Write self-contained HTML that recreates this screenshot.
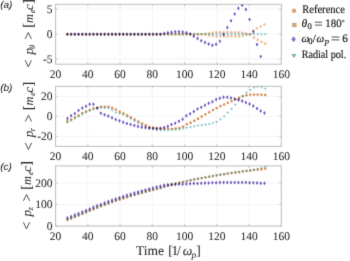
<!DOCTYPE html>
<html><head><meta charset="utf-8"><style>
html,body{margin:0;padding:0;background:#fff;}
body{width:350px;height:261px;overflow:hidden;}
svg{display:block;text-rendering:geometricPrecision;}
.tk{font-family:"Liberation Serif",serif;font-size:11.5px;fill:#262626;stroke:#262626;stroke-width:0.05px;}
.yl{font-family:"Liberation Serif",serif;font-size:11.5px;fill:#262626;stroke:#262626;stroke-width:0.04px;}
.xl{font-family:"Liberation Serif",serif;font-size:13px;fill:#262626;stroke:#262626;stroke-width:0.04px;}
.lg{font-family:"Liberation Serif",serif;font-size:10.5px;fill:#111;stroke:#111;stroke-width:0.15px;}
.pl{font-family:"Liberation Sans",sans-serif;font-size:10px;font-style:italic;fill:#222;}
</style></head><body>
<svg width="350" height="261" viewBox="0 0 350 261">
<defs><filter id="bl" x="-2%" y="-2%" width="104%" height="104%" color-interpolation-filters="sRGB"><feConvolveMatrix order="3" kernelMatrix="0.01134 0.08382 0.01134 0.08382 0.61935 0.08382 0.01134 0.08382 0.01134" divisor="1" edgeMode="duplicate" preserveAlpha="false"/></filter></defs>
<rect width="350" height="261" fill="#fff"/>
<g filter="url(#bl)">
<clipPath id="ca"><rect x="55.6" y="4.3" width="225.70000000000002" height="59.900000000000006"/></clipPath><line x1="87.84" y1="4.3" x2="87.84" y2="64.2" stroke="#efefef" stroke-width="0.6"/><line x1="120.08" y1="4.3" x2="120.08" y2="64.2" stroke="#efefef" stroke-width="0.6"/><line x1="152.33" y1="4.3" x2="152.33" y2="64.2" stroke="#efefef" stroke-width="0.6"/><line x1="184.57" y1="4.3" x2="184.57" y2="64.2" stroke="#efefef" stroke-width="0.6"/><line x1="216.81" y1="4.3" x2="216.81" y2="64.2" stroke="#efefef" stroke-width="0.6"/><line x1="249.05" y1="4.3" x2="249.05" y2="64.2" stroke="#efefef" stroke-width="0.6"/><line x1="55.6" y1="59.21" x2="281.3" y2="59.21" stroke="#efefef" stroke-width="0.6"/><line x1="55.6" y1="34.25" x2="281.3" y2="34.25" stroke="#efefef" stroke-width="0.6"/><line x1="55.6" y1="9.29" x2="281.3" y2="9.29" stroke="#efefef" stroke-width="0.6"/><rect x="55.6" y="4.3" width="225.70000000000002" height="59.900000000000006" fill="none" stroke="#bdbdbd" stroke-width="1.0"/><line x1="87.84" y1="64.2" x2="87.84" y2="62.2" stroke="#b0b0b0" stroke-width="0.7"/><line x1="87.84" y1="4.3" x2="87.84" y2="6.3" stroke="#b0b0b0" stroke-width="0.7"/><line x1="120.08" y1="64.2" x2="120.08" y2="62.2" stroke="#b0b0b0" stroke-width="0.7"/><line x1="120.08" y1="4.3" x2="120.08" y2="6.3" stroke="#b0b0b0" stroke-width="0.7"/><line x1="152.33" y1="64.2" x2="152.33" y2="62.2" stroke="#b0b0b0" stroke-width="0.7"/><line x1="152.33" y1="4.3" x2="152.33" y2="6.3" stroke="#b0b0b0" stroke-width="0.7"/><line x1="184.57" y1="64.2" x2="184.57" y2="62.2" stroke="#b0b0b0" stroke-width="0.7"/><line x1="184.57" y1="4.3" x2="184.57" y2="6.3" stroke="#b0b0b0" stroke-width="0.7"/><line x1="216.81" y1="64.2" x2="216.81" y2="62.2" stroke="#b0b0b0" stroke-width="0.7"/><line x1="216.81" y1="4.3" x2="216.81" y2="6.3" stroke="#b0b0b0" stroke-width="0.7"/><line x1="249.05" y1="64.2" x2="249.05" y2="62.2" stroke="#b0b0b0" stroke-width="0.7"/><line x1="249.05" y1="4.3" x2="249.05" y2="6.3" stroke="#b0b0b0" stroke-width="0.7"/><line x1="55.6" y1="59.21" x2="57.6" y2="59.21" stroke="#b0b0b0" stroke-width="0.7"/><line x1="281.3" y1="59.21" x2="279.3" y2="59.21" stroke="#b0b0b0" stroke-width="0.7"/><line x1="55.6" y1="34.25" x2="57.6" y2="34.25" stroke="#b0b0b0" stroke-width="0.7"/><line x1="281.3" y1="34.25" x2="279.3" y2="34.25" stroke="#b0b0b0" stroke-width="0.7"/><line x1="55.6" y1="9.29" x2="57.6" y2="9.29" stroke="#b0b0b0" stroke-width="0.7"/><line x1="281.3" y1="9.29" x2="279.3" y2="9.29" stroke="#b0b0b0" stroke-width="0.7"/><text x="55.60" y="78.10" text-anchor="middle" class="tk">20</text><text x="87.84" y="78.10" text-anchor="middle" class="tk">40</text><text x="120.08" y="78.10" text-anchor="middle" class="tk">60</text><text x="152.33" y="78.10" text-anchor="middle" class="tk">80</text><text x="184.57" y="78.10" text-anchor="middle" class="tk">100</text><text x="216.81" y="78.10" text-anchor="middle" class="tk">120</text><text x="249.05" y="78.10" text-anchor="middle" class="tk">140</text><text x="281.29" y="78.10" text-anchor="middle" class="tk">160</text><text x="52.6" y="63.11" text-anchor="end" class="tk">-5</text><text x="52.6" y="38.15" text-anchor="end" class="tk">0</text><text x="52.6" y="13.19" text-anchor="end" class="tk">5</text><clipPath id="cb"><rect x="55.6" y="86.3" width="225.70000000000002" height="60.10000000000001"/></clipPath><line x1="87.84" y1="86.3" x2="87.84" y2="146.4" stroke="#efefef" stroke-width="0.6"/><line x1="120.08" y1="86.3" x2="120.08" y2="146.4" stroke="#efefef" stroke-width="0.6"/><line x1="152.33" y1="86.3" x2="152.33" y2="146.4" stroke="#efefef" stroke-width="0.6"/><line x1="184.57" y1="86.3" x2="184.57" y2="146.4" stroke="#efefef" stroke-width="0.6"/><line x1="216.81" y1="86.3" x2="216.81" y2="146.4" stroke="#efefef" stroke-width="0.6"/><line x1="249.05" y1="86.3" x2="249.05" y2="146.4" stroke="#efefef" stroke-width="0.6"/><line x1="55.6" y1="136.38" x2="281.3" y2="136.38" stroke="#efefef" stroke-width="0.6"/><line x1="55.6" y1="116.35" x2="281.3" y2="116.35" stroke="#efefef" stroke-width="0.6"/><line x1="55.6" y1="96.32" x2="281.3" y2="96.32" stroke="#efefef" stroke-width="0.6"/><rect x="55.6" y="86.3" width="225.70000000000002" height="60.10000000000001" fill="none" stroke="#bdbdbd" stroke-width="1.0"/><line x1="87.84" y1="146.4" x2="87.84" y2="144.4" stroke="#b0b0b0" stroke-width="0.7"/><line x1="87.84" y1="86.3" x2="87.84" y2="88.3" stroke="#b0b0b0" stroke-width="0.7"/><line x1="120.08" y1="146.4" x2="120.08" y2="144.4" stroke="#b0b0b0" stroke-width="0.7"/><line x1="120.08" y1="86.3" x2="120.08" y2="88.3" stroke="#b0b0b0" stroke-width="0.7"/><line x1="152.33" y1="146.4" x2="152.33" y2="144.4" stroke="#b0b0b0" stroke-width="0.7"/><line x1="152.33" y1="86.3" x2="152.33" y2="88.3" stroke="#b0b0b0" stroke-width="0.7"/><line x1="184.57" y1="146.4" x2="184.57" y2="144.4" stroke="#b0b0b0" stroke-width="0.7"/><line x1="184.57" y1="86.3" x2="184.57" y2="88.3" stroke="#b0b0b0" stroke-width="0.7"/><line x1="216.81" y1="146.4" x2="216.81" y2="144.4" stroke="#b0b0b0" stroke-width="0.7"/><line x1="216.81" y1="86.3" x2="216.81" y2="88.3" stroke="#b0b0b0" stroke-width="0.7"/><line x1="249.05" y1="146.4" x2="249.05" y2="144.4" stroke="#b0b0b0" stroke-width="0.7"/><line x1="249.05" y1="86.3" x2="249.05" y2="88.3" stroke="#b0b0b0" stroke-width="0.7"/><line x1="55.6" y1="136.38" x2="57.6" y2="136.38" stroke="#b0b0b0" stroke-width="0.7"/><line x1="281.3" y1="136.38" x2="279.3" y2="136.38" stroke="#b0b0b0" stroke-width="0.7"/><line x1="55.6" y1="116.35" x2="57.6" y2="116.35" stroke="#b0b0b0" stroke-width="0.7"/><line x1="281.3" y1="116.35" x2="279.3" y2="116.35" stroke="#b0b0b0" stroke-width="0.7"/><line x1="55.6" y1="96.32" x2="57.6" y2="96.32" stroke="#b0b0b0" stroke-width="0.7"/><line x1="281.3" y1="96.32" x2="279.3" y2="96.32" stroke="#b0b0b0" stroke-width="0.7"/><text x="55.60" y="160.30" text-anchor="middle" class="tk">20</text><text x="87.84" y="160.30" text-anchor="middle" class="tk">40</text><text x="120.08" y="160.30" text-anchor="middle" class="tk">60</text><text x="152.33" y="160.30" text-anchor="middle" class="tk">80</text><text x="184.57" y="160.30" text-anchor="middle" class="tk">100</text><text x="216.81" y="160.30" text-anchor="middle" class="tk">120</text><text x="249.05" y="160.30" text-anchor="middle" class="tk">140</text><text x="281.29" y="160.30" text-anchor="middle" class="tk">160</text><text x="52.6" y="140.28" text-anchor="end" class="tk">-20</text><text x="52.6" y="120.25" text-anchor="end" class="tk">0</text><text x="52.6" y="100.22" text-anchor="end" class="tk">20</text><clipPath id="cc"><rect x="55.6" y="165.9" width="225.70000000000002" height="60.150000000000006"/></clipPath><line x1="87.84" y1="165.9" x2="87.84" y2="226.05" stroke="#efefef" stroke-width="0.6"/><line x1="120.08" y1="165.9" x2="120.08" y2="226.05" stroke="#efefef" stroke-width="0.6"/><line x1="152.33" y1="165.9" x2="152.33" y2="226.05" stroke="#efefef" stroke-width="0.6"/><line x1="184.57" y1="165.9" x2="184.57" y2="226.05" stroke="#efefef" stroke-width="0.6"/><line x1="216.81" y1="165.9" x2="216.81" y2="226.05" stroke="#efefef" stroke-width="0.6"/><line x1="249.05" y1="165.9" x2="249.05" y2="226.05" stroke="#efefef" stroke-width="0.6"/><line x1="55.6" y1="226.05" x2="281.3" y2="226.05" stroke="#efefef" stroke-width="0.6"/><line x1="55.6" y1="204.57" x2="281.3" y2="204.57" stroke="#efefef" stroke-width="0.6"/><line x1="55.6" y1="183.09" x2="281.3" y2="183.09" stroke="#efefef" stroke-width="0.6"/><rect x="55.6" y="165.9" width="225.70000000000002" height="60.150000000000006" fill="none" stroke="#bdbdbd" stroke-width="1.0"/><line x1="87.84" y1="226.05" x2="87.84" y2="224.05" stroke="#b0b0b0" stroke-width="0.7"/><line x1="87.84" y1="165.9" x2="87.84" y2="167.9" stroke="#b0b0b0" stroke-width="0.7"/><line x1="120.08" y1="226.05" x2="120.08" y2="224.05" stroke="#b0b0b0" stroke-width="0.7"/><line x1="120.08" y1="165.9" x2="120.08" y2="167.9" stroke="#b0b0b0" stroke-width="0.7"/><line x1="152.33" y1="226.05" x2="152.33" y2="224.05" stroke="#b0b0b0" stroke-width="0.7"/><line x1="152.33" y1="165.9" x2="152.33" y2="167.9" stroke="#b0b0b0" stroke-width="0.7"/><line x1="184.57" y1="226.05" x2="184.57" y2="224.05" stroke="#b0b0b0" stroke-width="0.7"/><line x1="184.57" y1="165.9" x2="184.57" y2="167.9" stroke="#b0b0b0" stroke-width="0.7"/><line x1="216.81" y1="226.05" x2="216.81" y2="224.05" stroke="#b0b0b0" stroke-width="0.7"/><line x1="216.81" y1="165.9" x2="216.81" y2="167.9" stroke="#b0b0b0" stroke-width="0.7"/><line x1="249.05" y1="226.05" x2="249.05" y2="224.05" stroke="#b0b0b0" stroke-width="0.7"/><line x1="249.05" y1="165.9" x2="249.05" y2="167.9" stroke="#b0b0b0" stroke-width="0.7"/><line x1="55.6" y1="226.05" x2="57.6" y2="226.05" stroke="#b0b0b0" stroke-width="0.7"/><line x1="281.3" y1="226.05" x2="279.3" y2="226.05" stroke="#b0b0b0" stroke-width="0.7"/><line x1="55.6" y1="204.57" x2="57.6" y2="204.57" stroke="#b0b0b0" stroke-width="0.7"/><line x1="281.3" y1="204.57" x2="279.3" y2="204.57" stroke="#b0b0b0" stroke-width="0.7"/><line x1="55.6" y1="183.09" x2="57.6" y2="183.09" stroke="#b0b0b0" stroke-width="0.7"/><line x1="281.3" y1="183.09" x2="279.3" y2="183.09" stroke="#b0b0b0" stroke-width="0.7"/><text x="55.60" y="239.95" text-anchor="middle" class="tk">20</text><text x="87.84" y="239.95" text-anchor="middle" class="tk">40</text><text x="120.08" y="239.95" text-anchor="middle" class="tk">60</text><text x="152.33" y="239.95" text-anchor="middle" class="tk">80</text><text x="184.57" y="239.95" text-anchor="middle" class="tk">100</text><text x="216.81" y="239.95" text-anchor="middle" class="tk">120</text><text x="249.05" y="239.95" text-anchor="middle" class="tk">140</text><text x="281.29" y="239.95" text-anchor="middle" class="tk">160</text><text x="52.6" y="229.95" text-anchor="end" class="tk">0</text><text x="52.6" y="208.47" text-anchor="end" class="tk">100</text><text x="52.6" y="186.99" text-anchor="end" class="tk">200</text><g transform="translate(32.60,67.20) rotate(-90)" class="yl"><path d="M7.0 -7.4L0.3 -4.3L7.0 -1.2" fill="none" stroke="#262626" stroke-width="0.8" stroke-linejoin="miter"/><text x="12.63" y="0.00" style="font-size:13.0px" font-style="italic">p</text><text x="18.30" y="2.40" style="font-size:8.5px" font-style="italic">θ</text><path d="M28.3 -7.4L34.6 -4.3L28.3 -1.2" fill="none" stroke="#262626" stroke-width="0.8" stroke-linejoin="miter"/><text x="39.51" y="0.30" style="font-size:14.5px">[</text><text x="44.22" y="0.00" style="font-size:12.5px" font-style="italic">m</text><text x="54.08" y="2.40" style="font-size:8.5px" font-style="italic">e</text><text x="57.30" y="0.00" style="font-size:12.5px" font-style="italic">c</text><text x="63.36" y="0.30" style="font-size:14.5px">]</text></g><g transform="translate(32.70,149.80) rotate(-90)" class="yl"><path d="M7.0 -7.4L0.3 -4.3L7.0 -1.2" fill="none" stroke="#262626" stroke-width="0.8" stroke-linejoin="miter"/><text x="12.63" y="0.00" style="font-size:13.0px" font-style="italic">p</text><text x="18.46" y="2.40" style="font-size:8.5px" font-style="italic">r</text><path d="M28.3 -7.4L34.6 -4.3L28.3 -1.2" fill="none" stroke="#262626" stroke-width="0.8" stroke-linejoin="miter"/><text x="39.51" y="0.30" style="font-size:14.5px">[</text><text x="44.22" y="0.00" style="font-size:12.5px" font-style="italic">m</text><text x="54.08" y="2.40" style="font-size:8.5px" font-style="italic">e</text><text x="57.30" y="0.00" style="font-size:12.5px" font-style="italic">c</text><text x="63.36" y="0.30" style="font-size:14.5px">]</text></g><g transform="translate(30.80,229.17) rotate(-90)" class="yl"><path d="M7.0 -7.4L0.3 -4.3L7.0 -1.2" fill="none" stroke="#262626" stroke-width="0.8" stroke-linejoin="miter"/><text x="12.63" y="0.00" style="font-size:13.0px" font-style="italic">p</text><text x="18.75" y="2.40" style="font-size:8.5px" font-style="italic">z</text><path d="M28.3 -7.4L34.6 -4.3L28.3 -1.2" fill="none" stroke="#262626" stroke-width="0.8" stroke-linejoin="miter"/><text x="39.51" y="0.30" style="font-size:14.5px">[</text><text x="44.22" y="0.00" style="font-size:12.5px" font-style="italic">m</text><text x="54.08" y="2.40" style="font-size:8.5px" font-style="italic">e</text><text x="57.30" y="0.00" style="font-size:12.5px" font-style="italic">c</text><text x="63.36" y="0.30" style="font-size:14.5px">]</text></g><g class="xl"><text x="136.06" y="255.0" style="font-size:13.5px">Time</text><text x="168.20" y="255.00" style="font-size:13.5px">[</text><text x="171.61" y="255.00" style="font-size:13.5px">1</text><text x="176.90" y="255.00" style="font-size:13.5px">/</text><text x="182.65" y="255.00" style="font-size:13.5px" font-style="italic">ω</text><text x="191.56" y="257.60" style="font-size:9.5px" font-style="italic">p</text><text x="196.21" y="255.00" style="font-size:13.5px">]</text></g><g clip-path="url(#ca)" opacity="0.6" style="mix-blend-mode:multiply"><circle cx="67.40" cy="34.25" r="1.22" fill="#de8c4a"/><circle cx="71.12" cy="34.25" r="1.22" fill="#de8c4a"/><circle cx="74.84" cy="34.25" r="1.22" fill="#de8c4a"/><circle cx="78.55" cy="34.25" r="1.22" fill="#de8c4a"/><circle cx="82.27" cy="34.25" r="1.22" fill="#de8c4a"/><circle cx="85.99" cy="34.25" r="1.22" fill="#de8c4a"/><circle cx="89.71" cy="34.25" r="1.22" fill="#de8c4a"/><circle cx="93.43" cy="34.25" r="1.22" fill="#de8c4a"/><circle cx="97.14" cy="34.25" r="1.22" fill="#de8c4a"/><circle cx="100.86" cy="34.25" r="1.22" fill="#de8c4a"/><circle cx="104.58" cy="34.25" r="1.22" fill="#de8c4a"/><circle cx="108.30" cy="34.25" r="1.22" fill="#de8c4a"/><circle cx="112.02" cy="34.25" r="1.22" fill="#de8c4a"/><circle cx="115.73" cy="34.25" r="1.22" fill="#de8c4a"/><circle cx="119.45" cy="34.25" r="1.22" fill="#de8c4a"/><circle cx="123.17" cy="34.25" r="1.22" fill="#de8c4a"/><circle cx="126.89" cy="34.25" r="1.22" fill="#de8c4a"/><circle cx="130.61" cy="34.25" r="1.22" fill="#de8c4a"/><circle cx="134.32" cy="34.25" r="1.22" fill="#de8c4a"/><circle cx="138.04" cy="34.25" r="1.22" fill="#de8c4a"/><circle cx="141.76" cy="34.25" r="1.22" fill="#de8c4a"/><circle cx="145.48" cy="34.25" r="1.22" fill="#de8c4a"/><circle cx="149.20" cy="34.25" r="1.22" fill="#de8c4a"/><circle cx="152.91" cy="34.25" r="1.22" fill="#de8c4a"/><circle cx="156.63" cy="34.25" r="1.22" fill="#de8c4a"/><circle cx="160.35" cy="34.25" r="1.22" fill="#de8c4a"/><circle cx="164.07" cy="34.25" r="1.22" fill="#de8c4a"/><circle cx="167.79" cy="34.25" r="1.22" fill="#de8c4a"/><circle cx="171.50" cy="34.25" r="1.22" fill="#de8c4a"/><circle cx="175.22" cy="34.25" r="1.22" fill="#de8c4a"/><circle cx="178.94" cy="34.25" r="1.22" fill="#de8c4a"/><circle cx="182.66" cy="34.25" r="1.22" fill="#de8c4a"/><circle cx="186.38" cy="34.25" r="1.22" fill="#de8c4a"/><circle cx="190.09" cy="34.25" r="1.22" fill="#de8c4a"/><circle cx="193.81" cy="34.25" r="1.22" fill="#de8c4a"/><circle cx="197.53" cy="34.25" r="1.22" fill="#de8c4a"/><circle cx="201.25" cy="34.11" r="1.22" fill="#de8c4a"/><circle cx="204.97" cy="33.80" r="1.22" fill="#de8c4a"/><circle cx="208.68" cy="33.34" r="1.22" fill="#de8c4a"/><circle cx="212.40" cy="32.80" r="1.22" fill="#de8c4a"/><circle cx="216.12" cy="32.29" r="1.22" fill="#de8c4a"/><circle cx="219.84" cy="32.15" r="1.22" fill="#de8c4a"/><circle cx="223.56" cy="32.15" r="1.22" fill="#de8c4a"/><circle cx="227.27" cy="32.15" r="1.22" fill="#de8c4a"/><circle cx="230.99" cy="32.15" r="1.22" fill="#de8c4a"/><circle cx="234.71" cy="32.15" r="1.22" fill="#de8c4a"/><circle cx="238.43" cy="32.17" r="1.22" fill="#de8c4a"/><circle cx="242.15" cy="32.64" r="1.22" fill="#de8c4a"/><circle cx="245.86" cy="33.40" r="1.22" fill="#de8c4a"/><circle cx="249.58" cy="34.24" r="1.22" fill="#de8c4a"/><circle cx="253.30" cy="30.36" r="1.22" fill="#de8c4a"/><circle cx="257.02" cy="28.49" r="1.22" fill="#de8c4a"/><circle cx="260.74" cy="26.48" r="1.22" fill="#de8c4a"/><circle cx="264.45" cy="24.50" r="1.22" fill="#de8c4a"/></g><g clip-path="url(#ca)" opacity="0.6" style="mix-blend-mode:multiply"><rect x="66.28" y="33.12" width="2.25" height="2.25" fill="#de8c4a"/><rect x="70.01" y="33.12" width="2.25" height="2.25" fill="#de8c4a"/><rect x="73.74" y="33.12" width="2.25" height="2.25" fill="#de8c4a"/><rect x="77.47" y="33.12" width="2.25" height="2.25" fill="#de8c4a"/><rect x="81.20" y="33.12" width="2.25" height="2.25" fill="#de8c4a"/><rect x="84.94" y="33.12" width="2.25" height="2.25" fill="#de8c4a"/><rect x="88.67" y="33.12" width="2.25" height="2.25" fill="#de8c4a"/><rect x="92.40" y="33.12" width="2.25" height="2.25" fill="#de8c4a"/><rect x="96.13" y="33.12" width="2.25" height="2.25" fill="#de8c4a"/><rect x="99.86" y="33.12" width="2.25" height="2.25" fill="#de8c4a"/><rect x="103.59" y="33.12" width="2.25" height="2.25" fill="#de8c4a"/><rect x="107.33" y="33.12" width="2.25" height="2.25" fill="#de8c4a"/><rect x="111.06" y="33.12" width="2.25" height="2.25" fill="#de8c4a"/><rect x="114.79" y="33.12" width="2.25" height="2.25" fill="#de8c4a"/><rect x="118.52" y="33.12" width="2.25" height="2.25" fill="#de8c4a"/><rect x="122.26" y="33.12" width="2.25" height="2.25" fill="#de8c4a"/><rect x="125.99" y="33.12" width="2.25" height="2.25" fill="#de8c4a"/><rect x="129.72" y="33.12" width="2.25" height="2.25" fill="#de8c4a"/><rect x="133.45" y="33.12" width="2.25" height="2.25" fill="#de8c4a"/><rect x="137.18" y="33.12" width="2.25" height="2.25" fill="#de8c4a"/><rect x="140.92" y="33.12" width="2.25" height="2.25" fill="#de8c4a"/><rect x="144.65" y="33.12" width="2.25" height="2.25" fill="#de8c4a"/><rect x="148.38" y="33.12" width="2.25" height="2.25" fill="#de8c4a"/><rect x="152.11" y="33.12" width="2.25" height="2.25" fill="#de8c4a"/><rect x="155.84" y="33.12" width="2.25" height="2.25" fill="#de8c4a"/><rect x="159.58" y="33.12" width="2.25" height="2.25" fill="#de8c4a"/><rect x="163.31" y="33.12" width="2.25" height="2.25" fill="#de8c4a"/><rect x="167.04" y="33.12" width="2.25" height="2.25" fill="#de8c4a"/><rect x="170.77" y="33.12" width="2.25" height="2.25" fill="#de8c4a"/><rect x="174.50" y="33.12" width="2.25" height="2.25" fill="#de8c4a"/><rect x="178.24" y="33.12" width="2.25" height="2.25" fill="#de8c4a"/><rect x="181.97" y="33.12" width="2.25" height="2.25" fill="#de8c4a"/><rect x="185.70" y="33.12" width="2.25" height="2.25" fill="#de8c4a"/><rect x="189.43" y="33.12" width="2.25" height="2.25" fill="#de8c4a"/><rect x="193.16" y="33.12" width="2.25" height="2.25" fill="#de8c4a"/><rect x="196.90" y="33.13" width="2.25" height="2.25" fill="#de8c4a"/><rect x="200.63" y="33.31" width="2.25" height="2.25" fill="#de8c4a"/><rect x="204.36" y="33.62" width="2.25" height="2.25" fill="#de8c4a"/><rect x="208.09" y="34.12" width="2.25" height="2.25" fill="#de8c4a"/><rect x="211.82" y="34.65" width="2.25" height="2.25" fill="#de8c4a"/><rect x="215.56" y="35.14" width="2.25" height="2.25" fill="#de8c4a"/><rect x="219.29" y="35.22" width="2.25" height="2.25" fill="#de8c4a"/><rect x="223.02" y="35.22" width="2.25" height="2.25" fill="#de8c4a"/><rect x="226.75" y="35.22" width="2.25" height="2.25" fill="#de8c4a"/><rect x="230.48" y="35.22" width="2.25" height="2.25" fill="#de8c4a"/><rect x="234.22" y="35.22" width="2.25" height="2.25" fill="#de8c4a"/><rect x="237.95" y="35.15" width="2.25" height="2.25" fill="#de8c4a"/><rect x="241.68" y="34.49" width="2.25" height="2.25" fill="#de8c4a"/><rect x="245.41" y="33.68" width="2.25" height="2.25" fill="#de8c4a"/><rect x="249.14" y="33.20" width="2.25" height="2.25" fill="#de8c4a"/><rect x="252.88" y="36.46" width="2.25" height="2.25" fill="#de8c4a"/><rect x="256.61" y="38.74" width="2.25" height="2.25" fill="#de8c4a"/><rect x="260.34" y="40.72" width="2.25" height="2.25" fill="#de8c4a"/><rect x="264.07" y="42.41" width="2.25" height="2.25" fill="#de8c4a"/></g><g clip-path="url(#ca)" opacity="0.6" style="mix-blend-mode:normal"><path d="M65.90 33.27L68.90 33.27L67.40 35.79Z" fill="#40a0a0"/><path d="M69.63 33.27L72.63 33.27L71.13 35.79Z" fill="#40a0a0"/><path d="M73.36 33.27L76.36 33.27L74.86 35.79Z" fill="#40a0a0"/><path d="M77.10 33.27L80.10 33.27L78.60 35.79Z" fill="#40a0a0"/><path d="M80.83 33.27L83.83 33.27L82.33 35.79Z" fill="#40a0a0"/><path d="M84.56 33.27L87.56 33.27L86.06 35.79Z" fill="#40a0a0"/><path d="M88.29 33.27L91.29 33.27L89.79 35.79Z" fill="#40a0a0"/><path d="M92.02 33.27L95.02 33.27L93.52 35.79Z" fill="#40a0a0"/><path d="M95.76 33.27L98.76 33.27L97.26 35.79Z" fill="#40a0a0"/><path d="M99.49 33.27L102.49 33.27L100.99 35.79Z" fill="#40a0a0"/><path d="M103.22 33.27L106.22 33.27L104.72 35.79Z" fill="#40a0a0"/><path d="M106.95 33.27L109.95 33.27L108.45 35.79Z" fill="#40a0a0"/><path d="M110.68 33.27L113.68 33.27L112.18 35.79Z" fill="#40a0a0"/><path d="M114.42 33.27L117.42 33.27L115.92 35.79Z" fill="#40a0a0"/><path d="M118.15 33.27L121.15 33.27L119.65 35.79Z" fill="#40a0a0"/><path d="M121.88 33.27L124.88 33.27L123.38 35.79Z" fill="#40a0a0"/><path d="M125.61 33.27L128.61 33.27L127.11 35.79Z" fill="#40a0a0"/><path d="M129.34 33.27L132.34 33.27L130.84 35.79Z" fill="#40a0a0"/><path d="M133.08 33.27L136.08 33.27L134.58 35.79Z" fill="#40a0a0"/><path d="M136.81 33.27L139.81 33.27L138.31 35.79Z" fill="#40a0a0"/><path d="M140.54 33.27L143.54 33.27L142.04 35.79Z" fill="#40a0a0"/><path d="M144.27 33.27L147.27 33.27L145.77 35.79Z" fill="#40a0a0"/><path d="M148.00 33.27L151.00 33.27L149.50 35.79Z" fill="#40a0a0"/><path d="M151.74 33.27L154.74 33.27L153.24 35.79Z" fill="#40a0a0"/><path d="M155.47 33.27L158.47 33.27L156.97 35.79Z" fill="#40a0a0"/><path d="M159.20 33.27L162.20 33.27L160.70 35.79Z" fill="#40a0a0"/><path d="M162.93 33.27L165.93 33.27L164.43 35.79Z" fill="#40a0a0"/><path d="M166.66 33.27L169.66 33.27L168.16 35.79Z" fill="#40a0a0"/><path d="M170.40 33.27L173.40 33.27L171.90 35.79Z" fill="#40a0a0"/><path d="M174.13 33.27L177.13 33.27L175.63 35.79Z" fill="#40a0a0"/><path d="M177.86 33.27L180.86 33.27L179.36 35.79Z" fill="#40a0a0"/><path d="M181.59 33.27L184.59 33.27L183.09 35.79Z" fill="#40a0a0"/><path d="M185.32 33.27L188.32 33.27L186.82 35.79Z" fill="#40a0a0"/><path d="M189.06 33.27L192.06 33.27L190.56 35.79Z" fill="#40a0a0"/><path d="M192.79 33.27L195.79 33.27L194.29 35.79Z" fill="#40a0a0"/><path d="M196.52 33.27L199.52 33.27L198.02 35.79Z" fill="#40a0a0"/><path d="M200.25 33.27L203.25 33.27L201.75 35.79Z" fill="#40a0a0"/><path d="M203.98 33.27L206.98 33.27L205.48 35.79Z" fill="#40a0a0"/><path d="M207.72 33.27L210.72 33.27L209.22 35.79Z" fill="#40a0a0"/><path d="M211.45 33.27L214.45 33.27L212.95 35.79Z" fill="#40a0a0"/><path d="M215.18 33.27L218.18 33.27L216.68 35.79Z" fill="#40a0a0"/><path d="M218.91 33.27L221.91 33.27L220.41 35.79Z" fill="#40a0a0"/><path d="M222.64 33.27L225.64 33.27L224.14 35.79Z" fill="#40a0a0"/><path d="M226.38 33.27L229.38 33.27L227.88 35.79Z" fill="#40a0a0"/><path d="M230.11 33.27L233.11 33.27L231.61 35.79Z" fill="#40a0a0"/><path d="M233.84 33.27L236.84 33.27L235.34 35.79Z" fill="#40a0a0"/><path d="M237.57 33.27L240.57 33.27L239.07 35.79Z" fill="#40a0a0"/><path d="M241.30 33.27L244.30 33.27L242.80 35.79Z" fill="#40a0a0"/><path d="M245.04 33.27L248.04 33.27L246.54 35.79Z" fill="#40a0a0"/><path d="M248.77 33.27L251.77 33.27L250.27 35.79Z" fill="#40a0a0"/><path d="M252.50 33.27L255.50 33.27L254.00 35.79Z" fill="#40a0a0"/><path d="M256.23 33.27L259.23 33.27L257.73 35.79Z" fill="#40a0a0"/><path d="M259.96 33.27L262.96 33.27L261.46 35.79Z" fill="#40a0a0"/><path d="M263.70 33.27L266.70 33.27L265.20 35.79Z" fill="#40a0a0"/></g><g clip-path="url(#ca)" opacity="0.9" style="mix-blend-mode:multiply"><path d="M67.40 32.25L68.70 34.25L67.40 36.25L66.10 34.25Z" fill="#6446b8"/><path d="M71.12 32.25L72.42 34.25L71.12 36.25L69.82 34.25Z" fill="#6446b8"/><path d="M74.84 32.25L76.14 34.25L74.84 36.25L73.54 34.25Z" fill="#6446b8"/><path d="M78.55 32.25L79.85 34.25L78.55 36.25L77.25 34.25Z" fill="#6446b8"/><path d="M82.27 32.25L83.57 34.25L82.27 36.25L80.97 34.25Z" fill="#6446b8"/><path d="M85.99 32.25L87.29 34.25L85.99 36.25L84.69 34.25Z" fill="#6446b8"/><path d="M89.71 32.25L91.01 34.25L89.71 36.25L88.41 34.25Z" fill="#6446b8"/><path d="M93.43 32.25L94.73 34.25L93.43 36.25L92.13 34.25Z" fill="#6446b8"/><path d="M97.14 32.25L98.44 34.25L97.14 36.25L95.84 34.25Z" fill="#6446b8"/><path d="M100.86 32.25L102.16 34.25L100.86 36.25L99.56 34.25Z" fill="#6446b8"/><path d="M104.58 32.25L105.88 34.25L104.58 36.25L103.28 34.25Z" fill="#6446b8"/><path d="M108.30 32.25L109.60 34.25L108.30 36.25L107.00 34.25Z" fill="#6446b8"/><path d="M112.02 32.25L113.32 34.25L112.02 36.25L110.72 34.25Z" fill="#6446b8"/><path d="M115.73 32.25L117.03 34.25L115.73 36.25L114.43 34.25Z" fill="#6446b8"/><path d="M119.45 32.25L120.75 34.25L119.45 36.25L118.15 34.25Z" fill="#6446b8"/><path d="M123.17 32.25L124.47 34.25L123.17 36.25L121.87 34.25Z" fill="#6446b8"/><path d="M126.89 32.25L128.19 34.25L126.89 36.25L125.59 34.25Z" fill="#6446b8"/><path d="M130.61 32.25L131.91 34.25L130.61 36.25L129.31 34.25Z" fill="#6446b8"/><path d="M134.32 32.25L135.62 34.25L134.32 36.25L133.02 34.25Z" fill="#6446b8"/><path d="M138.04 32.25L139.34 34.25L138.04 36.25L136.74 34.25Z" fill="#6446b8"/><path d="M141.76 32.25L143.06 34.25L141.76 36.25L140.46 34.25Z" fill="#6446b8"/><path d="M145.48 32.25L146.78 34.25L145.48 36.25L144.18 34.25Z" fill="#6446b8"/><path d="M149.20 32.25L150.50 34.25L149.20 36.25L147.90 34.25Z" fill="#6446b8"/><path d="M152.91 32.25L154.21 34.25L152.91 36.25L151.61 34.25Z" fill="#6446b8"/><path d="M156.63 32.25L157.93 34.25L156.63 36.25L155.33 34.25Z" fill="#6446b8"/><path d="M160.35 32.15L161.65 34.15L160.35 36.15L159.05 34.15Z" fill="#6446b8"/><path d="M164.07 31.44L165.37 33.44L164.07 35.44L162.77 33.44Z" fill="#6446b8"/><path d="M167.79 30.71L169.09 32.71L167.79 34.71L166.49 32.71Z" fill="#6446b8"/><path d="M171.50 30.13L172.80 32.13L171.50 34.13L170.20 32.13Z" fill="#6446b8"/><path d="M175.22 29.85L176.52 31.85L175.22 33.85L173.92 31.85Z" fill="#6446b8"/><path d="M178.94 29.85L180.24 31.85L178.94 33.85L177.64 31.85Z" fill="#6446b8"/><path d="M182.66 30.12L183.96 32.12L182.66 34.12L181.36 32.12Z" fill="#6446b8"/><path d="M186.38 30.71L187.68 32.71L186.38 34.71L185.08 32.71Z" fill="#6446b8"/><path d="M190.09 32.04L191.39 34.04L190.09 36.04L188.79 34.04Z" fill="#6446b8"/><path d="M193.81 34.23L195.11 36.23L193.81 38.23L192.51 36.23Z" fill="#6446b8"/><path d="M197.53 36.47L198.83 38.47L197.53 40.47L196.23 38.47Z" fill="#6446b8"/><path d="M201.25 38.63L202.55 40.63L201.25 42.63L199.95 40.63Z" fill="#6446b8"/><path d="M204.97 40.43L206.27 42.43L204.97 44.43L203.67 42.43Z" fill="#6446b8"/><path d="M208.68 42.12L209.98 44.12L208.68 46.12L207.38 44.12Z" fill="#6446b8"/><path d="M212.40 43.23L213.70 45.23L212.40 47.23L211.10 45.23Z" fill="#6446b8"/><path d="M216.12 42.25L217.42 44.25L216.12 46.25L214.82 44.25Z" fill="#6446b8"/><path d="M219.84 39.21L221.14 41.21L219.84 43.21L218.54 41.21Z" fill="#6446b8"/><path d="M223.56 32.55L224.86 34.55L223.56 36.55L222.26 34.55Z" fill="#6446b8"/><path d="M227.27 25.49L228.57 27.49L227.27 29.49L225.97 27.49Z" fill="#6446b8"/><path d="M230.99 18.78L232.29 20.78L230.99 22.78L229.69 20.78Z" fill="#6446b8"/><path d="M234.71 12.07L236.01 14.07L234.71 16.07L233.41 14.07Z" fill="#6446b8"/><path d="M238.43 6.25L239.73 8.25L238.43 10.25L237.13 8.25Z" fill="#6446b8"/><path d="M242.15 3.30L243.45 5.30L242.15 7.30L240.85 5.30Z" fill="#6446b8"/><path d="M245.86 7.62L247.16 9.62L245.86 11.62L244.56 9.62Z" fill="#6446b8"/><path d="M249.58 17.56L250.88 19.56L249.58 21.56L248.28 19.56Z" fill="#6446b8"/><path d="M253.30 29.74L254.60 31.74L253.30 33.74L252.00 31.74Z" fill="#6446b8"/><path d="M257.02 42.52L258.32 44.52L257.02 46.52L255.72 44.52Z" fill="#6446b8"/><path d="M260.74 54.50L262.04 56.50L260.74 58.50L259.44 56.50Z" fill="#6446b8"/></g><g clip-path="url(#cb)" opacity="0.6" style="mix-blend-mode:multiply"><circle cx="67.40" cy="121.39" r="1.22" fill="#de8c4a"/><circle cx="71.13" cy="119.67" r="1.22" fill="#de8c4a"/><circle cx="74.86" cy="117.58" r="1.22" fill="#de8c4a"/><circle cx="78.60" cy="115.57" r="1.22" fill="#de8c4a"/><circle cx="82.33" cy="113.03" r="1.22" fill="#de8c4a"/><circle cx="86.06" cy="111.51" r="1.22" fill="#de8c4a"/><circle cx="89.79" cy="109.90" r="1.22" fill="#de8c4a"/><circle cx="93.52" cy="108.50" r="1.22" fill="#de8c4a"/><circle cx="97.26" cy="107.96" r="1.22" fill="#de8c4a"/><circle cx="100.99" cy="106.84" r="1.22" fill="#de8c4a"/><circle cx="104.72" cy="106.73" r="1.22" fill="#de8c4a"/><circle cx="108.45" cy="106.73" r="1.22" fill="#de8c4a"/><circle cx="112.18" cy="107.90" r="1.22" fill="#de8c4a"/><circle cx="115.92" cy="109.67" r="1.22" fill="#de8c4a"/><circle cx="119.65" cy="111.79" r="1.22" fill="#de8c4a"/><circle cx="123.38" cy="113.40" r="1.22" fill="#de8c4a"/><circle cx="127.11" cy="115.36" r="1.22" fill="#de8c4a"/><circle cx="130.84" cy="117.47" r="1.22" fill="#de8c4a"/><circle cx="134.58" cy="119.45" r="1.22" fill="#de8c4a"/><circle cx="138.31" cy="121.55" r="1.22" fill="#de8c4a"/><circle cx="142.04" cy="123.56" r="1.22" fill="#de8c4a"/><circle cx="145.77" cy="125.27" r="1.22" fill="#de8c4a"/><circle cx="149.50" cy="126.93" r="1.22" fill="#de8c4a"/><circle cx="153.24" cy="127.81" r="1.22" fill="#de8c4a"/><circle cx="156.97" cy="128.35" r="1.22" fill="#de8c4a"/><circle cx="160.70" cy="128.75" r="1.22" fill="#de8c4a"/><circle cx="164.43" cy="128.87" r="1.22" fill="#de8c4a"/><circle cx="168.16" cy="128.87" r="1.22" fill="#de8c4a"/><circle cx="171.90" cy="128.87" r="1.22" fill="#de8c4a"/><circle cx="175.63" cy="128.56" r="1.22" fill="#de8c4a"/><circle cx="179.36" cy="127.92" r="1.22" fill="#de8c4a"/><circle cx="183.09" cy="126.67" r="1.22" fill="#de8c4a"/><circle cx="186.82" cy="124.32" r="1.22" fill="#de8c4a"/><circle cx="190.56" cy="122.77" r="1.22" fill="#de8c4a"/><circle cx="194.29" cy="120.73" r="1.22" fill="#de8c4a"/><circle cx="198.02" cy="118.71" r="1.22" fill="#de8c4a"/><circle cx="201.75" cy="116.44" r="1.22" fill="#de8c4a"/><circle cx="205.48" cy="114.36" r="1.22" fill="#de8c4a"/><circle cx="209.22" cy="112.25" r="1.22" fill="#de8c4a"/><circle cx="212.95" cy="110.04" r="1.22" fill="#de8c4a"/><circle cx="216.68" cy="108.10" r="1.22" fill="#de8c4a"/><circle cx="220.41" cy="106.08" r="1.22" fill="#de8c4a"/><circle cx="224.14" cy="104.49" r="1.22" fill="#de8c4a"/><circle cx="227.88" cy="102.75" r="1.22" fill="#de8c4a"/><circle cx="231.61" cy="101.11" r="1.22" fill="#de8c4a"/><circle cx="235.34" cy="99.41" r="1.22" fill="#de8c4a"/><circle cx="239.07" cy="97.78" r="1.22" fill="#de8c4a"/><circle cx="242.80" cy="96.19" r="1.22" fill="#de8c4a"/><circle cx="246.54" cy="95.14" r="1.22" fill="#de8c4a"/><circle cx="250.27" cy="94.62" r="1.22" fill="#de8c4a"/><circle cx="254.00" cy="94.61" r="1.22" fill="#de8c4a"/><circle cx="257.73" cy="94.61" r="1.22" fill="#de8c4a"/><circle cx="261.46" cy="94.73" r="1.22" fill="#de8c4a"/><circle cx="265.20" cy="94.92" r="1.22" fill="#de8c4a"/></g><g clip-path="url(#cb)" opacity="0.6" style="mix-blend-mode:multiply"><rect x="66.28" y="120.26" width="2.25" height="2.25" fill="#de8c4a"/><rect x="70.01" y="118.55" width="2.25" height="2.25" fill="#de8c4a"/><rect x="73.74" y="116.45" width="2.25" height="2.25" fill="#de8c4a"/><rect x="77.47" y="114.45" width="2.25" height="2.25" fill="#de8c4a"/><rect x="81.20" y="111.91" width="2.25" height="2.25" fill="#de8c4a"/><rect x="84.94" y="110.39" width="2.25" height="2.25" fill="#de8c4a"/><rect x="88.67" y="108.77" width="2.25" height="2.25" fill="#de8c4a"/><rect x="92.40" y="107.37" width="2.25" height="2.25" fill="#de8c4a"/><rect x="96.13" y="106.83" width="2.25" height="2.25" fill="#de8c4a"/><rect x="99.86" y="105.71" width="2.25" height="2.25" fill="#de8c4a"/><rect x="103.59" y="105.61" width="2.25" height="2.25" fill="#de8c4a"/><rect x="107.33" y="105.61" width="2.25" height="2.25" fill="#de8c4a"/><rect x="111.06" y="106.77" width="2.25" height="2.25" fill="#de8c4a"/><rect x="114.79" y="108.54" width="2.25" height="2.25" fill="#de8c4a"/><rect x="118.52" y="110.66" width="2.25" height="2.25" fill="#de8c4a"/><rect x="122.26" y="112.28" width="2.25" height="2.25" fill="#de8c4a"/><rect x="125.99" y="114.24" width="2.25" height="2.25" fill="#de8c4a"/><rect x="129.72" y="116.34" width="2.25" height="2.25" fill="#de8c4a"/><rect x="133.45" y="118.32" width="2.25" height="2.25" fill="#de8c4a"/><rect x="137.18" y="120.43" width="2.25" height="2.25" fill="#de8c4a"/><rect x="140.92" y="122.43" width="2.25" height="2.25" fill="#de8c4a"/><rect x="144.65" y="124.14" width="2.25" height="2.25" fill="#de8c4a"/><rect x="148.38" y="125.81" width="2.25" height="2.25" fill="#de8c4a"/><rect x="152.11" y="126.69" width="2.25" height="2.25" fill="#de8c4a"/><rect x="155.84" y="127.22" width="2.25" height="2.25" fill="#de8c4a"/><rect x="159.58" y="127.62" width="2.25" height="2.25" fill="#de8c4a"/><rect x="163.31" y="127.75" width="2.25" height="2.25" fill="#de8c4a"/><rect x="167.04" y="127.75" width="2.25" height="2.25" fill="#de8c4a"/><rect x="170.77" y="127.74" width="2.25" height="2.25" fill="#de8c4a"/><rect x="174.50" y="127.43" width="2.25" height="2.25" fill="#de8c4a"/><rect x="178.24" y="126.79" width="2.25" height="2.25" fill="#de8c4a"/><rect x="181.97" y="125.54" width="2.25" height="2.25" fill="#de8c4a"/><rect x="185.70" y="123.19" width="2.25" height="2.25" fill="#de8c4a"/><rect x="189.43" y="121.64" width="2.25" height="2.25" fill="#de8c4a"/><rect x="193.16" y="119.61" width="2.25" height="2.25" fill="#de8c4a"/><rect x="196.90" y="117.59" width="2.25" height="2.25" fill="#de8c4a"/><rect x="200.63" y="115.32" width="2.25" height="2.25" fill="#de8c4a"/><rect x="204.36" y="113.24" width="2.25" height="2.25" fill="#de8c4a"/><rect x="208.09" y="111.13" width="2.25" height="2.25" fill="#de8c4a"/><rect x="211.82" y="108.91" width="2.25" height="2.25" fill="#de8c4a"/><rect x="215.56" y="106.98" width="2.25" height="2.25" fill="#de8c4a"/><rect x="219.29" y="104.96" width="2.25" height="2.25" fill="#de8c4a"/><rect x="223.02" y="103.37" width="2.25" height="2.25" fill="#de8c4a"/><rect x="226.75" y="101.63" width="2.25" height="2.25" fill="#de8c4a"/><rect x="230.48" y="99.99" width="2.25" height="2.25" fill="#de8c4a"/><rect x="234.22" y="98.28" width="2.25" height="2.25" fill="#de8c4a"/><rect x="237.95" y="96.65" width="2.25" height="2.25" fill="#de8c4a"/><rect x="241.68" y="95.07" width="2.25" height="2.25" fill="#de8c4a"/><rect x="245.41" y="94.02" width="2.25" height="2.25" fill="#de8c4a"/><rect x="249.14" y="93.50" width="2.25" height="2.25" fill="#de8c4a"/><rect x="252.88" y="93.49" width="2.25" height="2.25" fill="#de8c4a"/><rect x="256.61" y="93.49" width="2.25" height="2.25" fill="#de8c4a"/><rect x="260.34" y="93.60" width="2.25" height="2.25" fill="#de8c4a"/><rect x="264.07" y="93.80" width="2.25" height="2.25" fill="#de8c4a"/></g><g clip-path="url(#cb)" opacity="0.6" style="mix-blend-mode:normal"><path d="M65.90 121.42L68.90 121.42L67.40 123.94Z" fill="#40a0a0"/><path d="M69.63 119.56L72.63 119.56L71.13 122.08Z" fill="#40a0a0"/><path d="M73.36 117.56L76.36 117.56L74.86 120.08Z" fill="#40a0a0"/><path d="M77.10 115.57L80.10 115.57L78.60 118.09Z" fill="#40a0a0"/><path d="M80.83 113.56L83.83 113.56L82.33 116.08Z" fill="#40a0a0"/><path d="M84.56 111.56L87.56 111.56L86.06 114.08Z" fill="#40a0a0"/><path d="M88.29 109.91L91.29 109.91L89.79 112.43Z" fill="#40a0a0"/><path d="M92.02 108.55L95.02 108.55L93.52 111.07Z" fill="#40a0a0"/><path d="M95.76 107.37L98.76 107.37L97.26 109.89Z" fill="#40a0a0"/><path d="M99.49 106.86L102.49 106.86L100.99 109.38Z" fill="#40a0a0"/><path d="M103.22 106.99L106.22 106.99L104.72 109.51Z" fill="#40a0a0"/><path d="M106.95 107.35L109.95 107.35L108.45 109.87Z" fill="#40a0a0"/><path d="M110.68 109.31L113.68 109.31L112.18 111.83Z" fill="#40a0a0"/><path d="M114.42 111.81L117.42 111.81L115.92 114.33Z" fill="#40a0a0"/><path d="M118.15 112.85L121.15 112.85L119.65 115.37Z" fill="#40a0a0"/><path d="M121.88 113.84L124.88 113.84L123.38 116.36Z" fill="#40a0a0"/><path d="M125.61 115.67L128.61 115.67L127.11 118.19Z" fill="#40a0a0"/><path d="M129.34 117.77L132.34 117.77L130.84 120.29Z" fill="#40a0a0"/><path d="M133.08 119.99L136.08 119.99L134.58 122.51Z" fill="#40a0a0"/><path d="M136.81 122.24L139.81 122.24L138.31 124.76Z" fill="#40a0a0"/><path d="M140.54 124.24L143.54 124.24L142.04 126.76Z" fill="#40a0a0"/><path d="M144.27 125.76L147.27 125.76L145.77 128.28Z" fill="#40a0a0"/><path d="M148.00 127.21L151.00 127.21L149.50 129.73Z" fill="#40a0a0"/><path d="M151.74 128.44L154.74 128.44L153.24 130.96Z" fill="#40a0a0"/><path d="M155.47 129.19L158.47 129.19L156.97 131.71Z" fill="#40a0a0"/><path d="M159.20 129.29L162.20 129.29L160.70 131.81Z" fill="#40a0a0"/><path d="M162.93 129.24L165.93 129.24L164.43 131.76Z" fill="#40a0a0"/><path d="M166.66 129.14L169.66 129.14L168.16 131.66Z" fill="#40a0a0"/><path d="M170.40 129.02L173.40 129.02L171.90 131.54Z" fill="#40a0a0"/><path d="M174.13 128.85L177.13 128.85L175.63 131.37Z" fill="#40a0a0"/><path d="M177.86 128.44L180.86 128.44L179.36 130.96Z" fill="#40a0a0"/><path d="M181.59 127.80L184.59 127.80L183.09 130.32Z" fill="#40a0a0"/><path d="M185.32 127.08L188.32 127.08L186.82 129.60Z" fill="#40a0a0"/><path d="M189.06 126.29L192.06 126.29L190.56 128.81Z" fill="#40a0a0"/><path d="M192.79 125.53L195.79 125.53L194.29 128.05Z" fill="#40a0a0"/><path d="M196.52 124.81L199.52 124.81L198.02 127.33Z" fill="#40a0a0"/><path d="M200.25 124.26L203.25 124.26L201.75 126.78Z" fill="#40a0a0"/><path d="M203.98 123.69L206.98 123.69L205.48 126.21Z" fill="#40a0a0"/><path d="M207.72 123.17L210.72 123.17L209.22 125.69Z" fill="#40a0a0"/><path d="M211.45 122.23L214.45 122.23L212.95 124.75Z" fill="#40a0a0"/><path d="M215.18 120.98L218.18 120.98L216.68 123.50Z" fill="#40a0a0"/><path d="M218.91 118.55L221.91 118.55L220.41 121.07Z" fill="#40a0a0"/><path d="M222.64 115.44L225.64 115.44L224.14 117.96Z" fill="#40a0a0"/><path d="M226.38 111.72L229.38 111.72L227.88 114.24Z" fill="#40a0a0"/><path d="M230.11 108.06L233.11 108.06L231.61 110.58Z" fill="#40a0a0"/><path d="M233.84 103.84L236.84 103.84L235.34 106.36Z" fill="#40a0a0"/><path d="M237.57 99.26L240.57 99.26L239.07 101.78Z" fill="#40a0a0"/><path d="M241.30 95.22L244.30 95.22L242.80 97.74Z" fill="#40a0a0"/><path d="M245.04 91.81L248.04 91.81L246.54 94.33Z" fill="#40a0a0"/><path d="M248.77 88.98L251.77 88.98L250.27 91.50Z" fill="#40a0a0"/><path d="M252.50 86.74L255.50 86.74L254.00 89.26Z" fill="#40a0a0"/><path d="M256.23 85.82L259.23 85.82L257.73 88.34Z" fill="#40a0a0"/><path d="M259.96 86.19L262.96 86.19L261.46 88.71Z" fill="#40a0a0"/><path d="M263.70 87.69L266.70 87.69L265.20 90.21Z" fill="#40a0a0"/></g><g clip-path="url(#cb)" opacity="0.9" style="mix-blend-mode:multiply"><path d="M67.40 116.43L68.70 118.43L67.40 120.43L66.10 118.43Z" fill="#6446b8"/><path d="M71.12 113.72L72.42 115.72L71.12 117.72L69.82 115.72Z" fill="#6446b8"/><path d="M74.84 111.43L76.14 113.43L74.84 115.43L73.54 113.43Z" fill="#6446b8"/><path d="M78.55 108.55L79.85 110.55L78.55 112.55L77.25 110.55Z" fill="#6446b8"/><path d="M82.27 106.09L83.57 108.09L82.27 110.09L80.97 108.09Z" fill="#6446b8"/><path d="M85.99 104.15L87.29 106.15L85.99 108.15L84.69 106.15Z" fill="#6446b8"/><path d="M89.71 102.34L91.01 104.34L89.71 106.34L88.41 104.34Z" fill="#6446b8"/><path d="M93.43 102.33L94.73 104.33L93.43 106.33L92.13 104.33Z" fill="#6446b8"/><path d="M97.14 105.89L98.44 107.89L97.14 109.89L95.84 107.89Z" fill="#6446b8"/><path d="M100.86 111.31L102.16 113.31L100.86 115.31L99.56 113.31Z" fill="#6446b8"/><path d="M104.58 112.78L105.88 114.78L104.58 116.78L103.28 114.78Z" fill="#6446b8"/><path d="M108.30 114.08L109.60 116.08L108.30 118.08L107.00 116.08Z" fill="#6446b8"/><path d="M112.02 115.80L113.32 117.80L112.02 119.80L110.72 117.80Z" fill="#6446b8"/><path d="M115.73 117.46L117.03 119.46L115.73 121.46L114.43 119.46Z" fill="#6446b8"/><path d="M119.45 118.76L120.75 120.76L119.45 122.76L118.15 120.76Z" fill="#6446b8"/><path d="M123.17 120.13L124.47 122.13L123.17 124.13L121.87 122.13Z" fill="#6446b8"/><path d="M126.89 121.47L128.19 123.47L126.89 125.47L125.59 123.47Z" fill="#6446b8"/><path d="M130.61 122.62L131.91 124.62L130.61 126.62L129.31 124.62Z" fill="#6446b8"/><path d="M134.32 123.52L135.62 125.52L134.32 127.52L133.02 125.52Z" fill="#6446b8"/><path d="M138.04 124.42L139.34 126.42L138.04 128.42L136.74 126.42Z" fill="#6446b8"/><path d="M141.76 125.18L143.06 127.18L141.76 129.18L140.46 127.18Z" fill="#6446b8"/><path d="M145.48 125.86L146.78 127.86L145.48 129.86L144.18 127.86Z" fill="#6446b8"/><path d="M149.20 126.17L150.50 128.17L149.20 130.17L147.90 128.17Z" fill="#6446b8"/><path d="M152.91 126.27L154.21 128.27L152.91 130.27L151.61 128.27Z" fill="#6446b8"/><path d="M156.63 126.57L157.93 128.57L156.63 130.57L155.33 128.57Z" fill="#6446b8"/><path d="M160.35 126.27L161.65 128.27L160.35 130.27L159.05 128.27Z" fill="#6446b8"/><path d="M164.07 125.42L165.37 127.42L164.07 129.42L162.77 127.42Z" fill="#6446b8"/><path d="M167.79 124.33L169.09 126.33L167.79 128.33L166.49 126.33Z" fill="#6446b8"/><path d="M171.50 122.57L172.80 124.57L171.50 126.57L170.20 124.57Z" fill="#6446b8"/><path d="M175.22 121.13L176.52 123.13L175.22 125.13L173.92 123.13Z" fill="#6446b8"/><path d="M178.94 119.14L180.24 121.14L178.94 123.14L177.64 121.14Z" fill="#6446b8"/><path d="M182.66 117.14L183.96 119.14L182.66 121.14L181.36 119.14Z" fill="#6446b8"/><path d="M186.38 113.79L187.68 115.79L186.38 117.79L185.08 115.79Z" fill="#6446b8"/><path d="M190.09 111.81L191.39 113.81L190.09 115.81L188.79 113.81Z" fill="#6446b8"/><path d="M193.81 109.61L195.11 111.61L193.81 113.61L192.51 111.61Z" fill="#6446b8"/><path d="M197.53 107.10L198.83 109.10L197.53 111.10L196.23 109.10Z" fill="#6446b8"/><path d="M201.25 105.30L202.55 107.30L201.25 109.30L199.95 107.30Z" fill="#6446b8"/><path d="M204.97 103.27L206.27 105.27L204.97 107.27L203.67 105.27Z" fill="#6446b8"/><path d="M208.68 101.36L209.98 103.36L208.68 105.36L207.38 103.36Z" fill="#6446b8"/><path d="M212.40 99.74L213.70 101.74L212.40 103.74L211.10 101.74Z" fill="#6446b8"/><path d="M216.12 97.42L217.42 99.42L216.12 101.42L214.82 99.42Z" fill="#6446b8"/><path d="M219.84 96.17L221.14 98.17L219.84 100.17L218.54 98.17Z" fill="#6446b8"/><path d="M223.56 95.32L224.86 97.32L223.56 99.32L222.26 97.32Z" fill="#6446b8"/><path d="M227.27 95.32L228.57 97.32L227.27 99.32L225.97 97.32Z" fill="#6446b8"/><path d="M230.99 96.12L232.29 98.12L230.99 100.12L229.69 98.12Z" fill="#6446b8"/><path d="M234.71 96.89L236.01 98.89L234.71 100.89L233.41 98.89Z" fill="#6446b8"/><path d="M238.43 97.74L239.73 99.74L238.43 101.74L237.13 99.74Z" fill="#6446b8"/><path d="M242.15 98.93L243.45 100.93L242.15 102.93L240.85 100.93Z" fill="#6446b8"/><path d="M245.86 100.41L247.16 102.41L245.86 104.41L244.56 102.41Z" fill="#6446b8"/><path d="M249.58 102.11L250.88 104.11L249.58 106.11L248.28 104.11Z" fill="#6446b8"/><path d="M253.30 104.07L254.60 106.07L253.30 108.07L252.00 106.07Z" fill="#6446b8"/><path d="M257.02 106.47L258.32 108.47L257.02 110.47L255.72 108.47Z" fill="#6446b8"/><path d="M260.74 108.91L262.04 110.91L260.74 112.91L259.44 110.91Z" fill="#6446b8"/><path d="M264.45 111.09L265.75 113.09L264.45 115.09L263.15 113.09Z" fill="#6446b8"/></g><g clip-path="url(#cc)" opacity="0.6" style="mix-blend-mode:multiply"><circle cx="67.40" cy="219.84" r="1.22" fill="#de8c4a"/><circle cx="71.13" cy="218.42" r="1.22" fill="#de8c4a"/><circle cx="74.86" cy="216.94" r="1.22" fill="#de8c4a"/><circle cx="78.60" cy="215.42" r="1.22" fill="#de8c4a"/><circle cx="82.33" cy="213.87" r="1.22" fill="#de8c4a"/><circle cx="86.06" cy="212.32" r="1.22" fill="#de8c4a"/><circle cx="89.79" cy="210.78" r="1.22" fill="#de8c4a"/><circle cx="93.52" cy="209.25" r="1.22" fill="#de8c4a"/><circle cx="97.26" cy="207.75" r="1.22" fill="#de8c4a"/><circle cx="100.99" cy="206.28" r="1.22" fill="#de8c4a"/><circle cx="104.72" cy="204.85" r="1.22" fill="#de8c4a"/><circle cx="108.45" cy="203.46" r="1.22" fill="#de8c4a"/><circle cx="112.18" cy="202.11" r="1.22" fill="#de8c4a"/><circle cx="115.92" cy="200.80" r="1.22" fill="#de8c4a"/><circle cx="119.65" cy="199.54" r="1.22" fill="#de8c4a"/><circle cx="123.38" cy="198.32" r="1.22" fill="#de8c4a"/><circle cx="127.11" cy="197.14" r="1.22" fill="#de8c4a"/><circle cx="130.84" cy="196.00" r="1.22" fill="#de8c4a"/><circle cx="134.58" cy="194.90" r="1.22" fill="#de8c4a"/><circle cx="138.31" cy="193.83" r="1.22" fill="#de8c4a"/><circle cx="142.04" cy="192.80" r="1.22" fill="#de8c4a"/><circle cx="145.77" cy="191.79" r="1.22" fill="#de8c4a"/><circle cx="149.50" cy="190.81" r="1.22" fill="#de8c4a"/><circle cx="153.24" cy="189.86" r="1.22" fill="#de8c4a"/><circle cx="156.97" cy="188.92" r="1.22" fill="#de8c4a"/><circle cx="160.70" cy="187.99" r="1.22" fill="#de8c4a"/><circle cx="164.43" cy="186.87" r="1.22" fill="#de8c4a"/><circle cx="168.16" cy="185.77" r="1.22" fill="#de8c4a"/><circle cx="171.90" cy="184.68" r="1.22" fill="#de8c4a"/><circle cx="175.63" cy="183.61" r="1.22" fill="#de8c4a"/><circle cx="179.36" cy="182.73" r="1.22" fill="#de8c4a"/><circle cx="183.09" cy="181.91" r="1.22" fill="#de8c4a"/><circle cx="186.82" cy="181.11" r="1.22" fill="#de8c4a"/><circle cx="190.56" cy="180.33" r="1.22" fill="#de8c4a"/><circle cx="194.29" cy="179.56" r="1.22" fill="#de8c4a"/><circle cx="198.02" cy="178.82" r="1.22" fill="#de8c4a"/><circle cx="201.75" cy="178.09" r="1.22" fill="#de8c4a"/><circle cx="205.48" cy="177.38" r="1.22" fill="#de8c4a"/><circle cx="209.22" cy="176.69" r="1.22" fill="#de8c4a"/><circle cx="212.95" cy="176.03" r="1.22" fill="#de8c4a"/><circle cx="216.68" cy="175.39" r="1.22" fill="#de8c4a"/><circle cx="220.41" cy="174.77" r="1.22" fill="#de8c4a"/><circle cx="224.14" cy="174.17" r="1.22" fill="#de8c4a"/><circle cx="227.88" cy="173.60" r="1.22" fill="#de8c4a"/><circle cx="231.61" cy="173.05" r="1.22" fill="#de8c4a"/><circle cx="235.34" cy="172.51" r="1.22" fill="#de8c4a"/><circle cx="239.07" cy="171.99" r="1.22" fill="#de8c4a"/><circle cx="242.80" cy="171.47" r="1.22" fill="#de8c4a"/><circle cx="246.54" cy="170.96" r="1.22" fill="#de8c4a"/><circle cx="250.27" cy="170.43" r="1.22" fill="#de8c4a"/><circle cx="254.00" cy="170.05" r="1.22" fill="#de8c4a"/><circle cx="257.73" cy="169.66" r="1.22" fill="#de8c4a"/><circle cx="261.46" cy="169.22" r="1.22" fill="#de8c4a"/><circle cx="265.20" cy="168.62" r="1.22" fill="#de8c4a"/></g><g clip-path="url(#cc)" opacity="0.6" style="mix-blend-mode:multiply"><rect x="66.28" y="218.71" width="2.25" height="2.25" fill="#de8c4a"/><rect x="70.01" y="217.29" width="2.25" height="2.25" fill="#de8c4a"/><rect x="73.74" y="215.81" width="2.25" height="2.25" fill="#de8c4a"/><rect x="77.47" y="214.29" width="2.25" height="2.25" fill="#de8c4a"/><rect x="81.20" y="212.75" width="2.25" height="2.25" fill="#de8c4a"/><rect x="84.94" y="211.20" width="2.25" height="2.25" fill="#de8c4a"/><rect x="88.67" y="209.65" width="2.25" height="2.25" fill="#de8c4a"/><rect x="92.40" y="208.13" width="2.25" height="2.25" fill="#de8c4a"/><rect x="96.13" y="206.62" width="2.25" height="2.25" fill="#de8c4a"/><rect x="99.86" y="205.15" width="2.25" height="2.25" fill="#de8c4a"/><rect x="103.59" y="203.72" width="2.25" height="2.25" fill="#de8c4a"/><rect x="107.33" y="202.33" width="2.25" height="2.25" fill="#de8c4a"/><rect x="111.06" y="200.98" width="2.25" height="2.25" fill="#de8c4a"/><rect x="114.79" y="199.68" width="2.25" height="2.25" fill="#de8c4a"/><rect x="118.52" y="198.41" width="2.25" height="2.25" fill="#de8c4a"/><rect x="122.26" y="197.19" width="2.25" height="2.25" fill="#de8c4a"/><rect x="125.99" y="196.02" width="2.25" height="2.25" fill="#de8c4a"/><rect x="129.72" y="194.88" width="2.25" height="2.25" fill="#de8c4a"/><rect x="133.45" y="193.77" width="2.25" height="2.25" fill="#de8c4a"/><rect x="137.18" y="192.71" width="2.25" height="2.25" fill="#de8c4a"/><rect x="140.92" y="191.67" width="2.25" height="2.25" fill="#de8c4a"/><rect x="144.65" y="190.67" width="2.25" height="2.25" fill="#de8c4a"/><rect x="148.38" y="189.69" width="2.25" height="2.25" fill="#de8c4a"/><rect x="152.11" y="188.73" width="2.25" height="2.25" fill="#de8c4a"/><rect x="155.84" y="187.80" width="2.25" height="2.25" fill="#de8c4a"/><rect x="159.58" y="186.86" width="2.25" height="2.25" fill="#de8c4a"/><rect x="163.31" y="185.75" width="2.25" height="2.25" fill="#de8c4a"/><rect x="167.04" y="184.64" width="2.25" height="2.25" fill="#de8c4a"/><rect x="170.77" y="183.56" width="2.25" height="2.25" fill="#de8c4a"/><rect x="174.50" y="182.49" width="2.25" height="2.25" fill="#de8c4a"/><rect x="178.24" y="181.61" width="2.25" height="2.25" fill="#de8c4a"/><rect x="181.97" y="180.79" width="2.25" height="2.25" fill="#de8c4a"/><rect x="185.70" y="179.99" width="2.25" height="2.25" fill="#de8c4a"/><rect x="189.43" y="179.21" width="2.25" height="2.25" fill="#de8c4a"/><rect x="193.16" y="178.44" width="2.25" height="2.25" fill="#de8c4a"/><rect x="196.90" y="177.69" width="2.25" height="2.25" fill="#de8c4a"/><rect x="200.63" y="176.96" width="2.25" height="2.25" fill="#de8c4a"/><rect x="204.36" y="176.25" width="2.25" height="2.25" fill="#de8c4a"/><rect x="208.09" y="175.57" width="2.25" height="2.25" fill="#de8c4a"/><rect x="211.82" y="174.90" width="2.25" height="2.25" fill="#de8c4a"/><rect x="215.56" y="174.26" width="2.25" height="2.25" fill="#de8c4a"/><rect x="219.29" y="173.64" width="2.25" height="2.25" fill="#de8c4a"/><rect x="223.02" y="173.05" width="2.25" height="2.25" fill="#de8c4a"/><rect x="226.75" y="172.48" width="2.25" height="2.25" fill="#de8c4a"/><rect x="230.48" y="171.92" width="2.25" height="2.25" fill="#de8c4a"/><rect x="234.22" y="171.39" width="2.25" height="2.25" fill="#de8c4a"/><rect x="237.95" y="170.87" width="2.25" height="2.25" fill="#de8c4a"/><rect x="241.68" y="170.35" width="2.25" height="2.25" fill="#de8c4a"/><rect x="245.41" y="169.83" width="2.25" height="2.25" fill="#de8c4a"/><rect x="249.14" y="169.31" width="2.25" height="2.25" fill="#de8c4a"/><rect x="252.88" y="168.93" width="2.25" height="2.25" fill="#de8c4a"/><rect x="256.61" y="168.53" width="2.25" height="2.25" fill="#de8c4a"/><rect x="260.34" y="168.09" width="2.25" height="2.25" fill="#de8c4a"/><rect x="264.07" y="167.50" width="2.25" height="2.25" fill="#de8c4a"/></g><g clip-path="url(#cc)" opacity="0.6" style="mix-blend-mode:normal"><path d="M65.90 218.86L68.90 218.86L67.40 221.38Z" fill="#40a0a0"/><path d="M69.63 217.44L72.63 217.44L71.13 219.96Z" fill="#40a0a0"/><path d="M73.36 215.96L76.36 215.96L74.86 218.48Z" fill="#40a0a0"/><path d="M77.10 214.44L80.10 214.44L78.60 216.96Z" fill="#40a0a0"/><path d="M80.83 212.89L83.83 212.89L82.33 215.41Z" fill="#40a0a0"/><path d="M84.56 211.34L87.56 211.34L86.06 213.86Z" fill="#40a0a0"/><path d="M88.29 209.80L91.29 209.80L89.79 212.32Z" fill="#40a0a0"/><path d="M92.02 208.27L95.02 208.27L93.52 210.79Z" fill="#40a0a0"/><path d="M95.76 206.77L98.76 206.77L97.26 209.29Z" fill="#40a0a0"/><path d="M99.49 205.30L102.49 205.30L100.99 207.82Z" fill="#40a0a0"/><path d="M103.22 203.87L106.22 203.87L104.72 206.39Z" fill="#40a0a0"/><path d="M106.95 202.48L109.95 202.48L108.45 205.00Z" fill="#40a0a0"/><path d="M110.68 201.13L113.68 201.13L112.18 203.65Z" fill="#40a0a0"/><path d="M114.42 199.82L117.42 199.82L115.92 202.34Z" fill="#40a0a0"/><path d="M118.15 198.56L121.15 198.56L119.65 201.08Z" fill="#40a0a0"/><path d="M121.88 197.34L124.88 197.34L123.38 199.86Z" fill="#40a0a0"/><path d="M125.61 196.16L128.61 196.16L127.11 198.68Z" fill="#40a0a0"/><path d="M129.34 195.02L132.34 195.02L130.84 197.54Z" fill="#40a0a0"/><path d="M133.08 193.92L136.08 193.92L134.58 196.44Z" fill="#40a0a0"/><path d="M136.81 192.85L139.81 192.85L138.31 195.37Z" fill="#40a0a0"/><path d="M140.54 191.82L143.54 191.82L142.04 194.34Z" fill="#40a0a0"/><path d="M144.27 190.81L147.27 190.81L145.77 193.33Z" fill="#40a0a0"/><path d="M148.00 189.83L151.00 189.83L149.50 192.35Z" fill="#40a0a0"/><path d="M151.74 188.88L154.74 188.88L153.24 191.40Z" fill="#40a0a0"/><path d="M155.47 187.94L158.47 187.94L156.97 190.46Z" fill="#40a0a0"/><path d="M159.20 187.01L162.20 187.01L160.70 189.53Z" fill="#40a0a0"/><path d="M162.93 185.89L165.93 185.89L164.43 188.41Z" fill="#40a0a0"/><path d="M166.66 184.79L169.66 184.79L168.16 187.31Z" fill="#40a0a0"/><path d="M170.40 183.70L173.40 183.70L171.90 186.22Z" fill="#40a0a0"/><path d="M174.13 182.63L177.13 182.63L175.63 185.15Z" fill="#40a0a0"/><path d="M177.86 181.75L180.86 181.75L179.36 184.27Z" fill="#40a0a0"/><path d="M181.59 180.93L184.59 180.93L183.09 183.45Z" fill="#40a0a0"/><path d="M185.32 180.13L188.32 180.13L186.82 182.65Z" fill="#40a0a0"/><path d="M189.06 179.35L192.06 179.35L190.56 181.87Z" fill="#40a0a0"/><path d="M192.79 178.58L195.79 178.58L194.29 181.10Z" fill="#40a0a0"/><path d="M196.52 177.84L199.52 177.84L198.02 180.36Z" fill="#40a0a0"/><path d="M200.25 177.11L203.25 177.11L201.75 179.63Z" fill="#40a0a0"/><path d="M203.98 176.40L206.98 176.40L205.48 178.92Z" fill="#40a0a0"/><path d="M207.72 175.71L210.72 175.71L209.22 178.23Z" fill="#40a0a0"/><path d="M211.45 175.05L214.45 175.05L212.95 177.57Z" fill="#40a0a0"/><path d="M215.18 174.41L218.18 174.41L216.68 176.93Z" fill="#40a0a0"/><path d="M218.91 173.79L221.91 173.79L220.41 176.31Z" fill="#40a0a0"/><path d="M222.64 173.19L225.64 173.19L224.14 175.71Z" fill="#40a0a0"/><path d="M226.38 172.62L229.38 172.62L227.88 175.14Z" fill="#40a0a0"/><path d="M230.11 172.07L233.11 172.07L231.61 174.59Z" fill="#40a0a0"/><path d="M233.84 171.53L236.84 171.53L235.34 174.05Z" fill="#40a0a0"/><path d="M237.57 171.01L240.57 171.01L239.07 173.53Z" fill="#40a0a0"/><path d="M241.30 170.49L244.30 170.49L242.80 173.01Z" fill="#40a0a0"/><path d="M245.04 169.98L248.04 169.98L246.54 172.50Z" fill="#40a0a0"/><path d="M248.77 169.45L251.77 169.45L250.27 171.97Z" fill="#40a0a0"/><path d="M252.50 168.74L255.50 168.74L254.00 171.26Z" fill="#40a0a0"/><path d="M256.23 167.97L259.23 167.97L257.73 170.49Z" fill="#40a0a0"/><path d="M259.96 167.16L262.96 167.16L261.46 169.68Z" fill="#40a0a0"/><path d="M263.70 166.35L266.70 166.35L265.20 168.87Z" fill="#40a0a0"/></g><g clip-path="url(#cc)" opacity="0.9" style="mix-blend-mode:multiply"><path d="M67.40 215.90L68.70 217.90L67.40 219.90L66.10 217.90Z" fill="#6446b8"/><path d="M71.12 214.49L72.42 216.49L71.12 218.49L69.82 216.49Z" fill="#6446b8"/><path d="M74.84 213.02L76.14 215.02L74.84 217.02L73.54 215.02Z" fill="#6446b8"/><path d="M78.55 211.50L79.85 213.50L78.55 215.50L77.25 213.50Z" fill="#6446b8"/><path d="M82.27 209.96L83.57 211.96L82.27 213.96L80.97 211.96Z" fill="#6446b8"/><path d="M85.99 208.42L87.29 210.42L85.99 212.42L84.69 210.42Z" fill="#6446b8"/><path d="M89.71 206.88L91.01 208.88L89.71 210.88L88.41 208.88Z" fill="#6446b8"/><path d="M93.43 205.36L94.73 207.36L93.43 209.36L92.13 207.36Z" fill="#6446b8"/><path d="M97.14 203.86L98.44 205.86L97.14 207.86L95.84 205.86Z" fill="#6446b8"/><path d="M100.86 202.39L102.16 204.39L100.86 206.39L99.56 204.39Z" fill="#6446b8"/><path d="M104.58 200.97L105.88 202.97L104.58 204.97L103.28 202.97Z" fill="#6446b8"/><path d="M108.30 199.58L109.60 201.58L108.30 203.58L107.00 201.58Z" fill="#6446b8"/><path d="M112.02 198.23L113.32 200.23L112.02 202.23L110.72 200.23Z" fill="#6446b8"/><path d="M115.73 196.93L117.03 198.93L115.73 200.93L114.43 198.93Z" fill="#6446b8"/><path d="M119.45 195.67L120.75 197.67L119.45 199.67L118.15 197.67Z" fill="#6446b8"/><path d="M123.17 194.45L124.47 196.45L123.17 198.45L121.87 196.45Z" fill="#6446b8"/><path d="M126.89 193.28L128.19 195.28L126.89 197.28L125.59 195.28Z" fill="#6446b8"/><path d="M130.61 192.14L131.91 194.14L130.61 196.14L129.31 194.14Z" fill="#6446b8"/><path d="M134.32 191.04L135.62 193.04L134.32 195.04L133.02 193.04Z" fill="#6446b8"/><path d="M138.04 189.97L139.34 191.97L138.04 193.97L136.74 191.97Z" fill="#6446b8"/><path d="M141.76 188.94L143.06 190.94L141.76 192.94L140.46 190.94Z" fill="#6446b8"/><path d="M145.48 187.93L146.78 189.93L145.48 191.93L144.18 189.93Z" fill="#6446b8"/><path d="M149.20 186.96L150.50 188.96L149.20 190.96L147.90 188.96Z" fill="#6446b8"/><path d="M152.91 186.00L154.21 188.00L152.91 190.00L151.61 188.00Z" fill="#6446b8"/><path d="M156.63 185.07L157.93 187.07L156.63 189.07L155.33 187.07Z" fill="#6446b8"/><path d="M160.35 184.16L161.65 186.16L160.35 188.16L159.05 186.16Z" fill="#6446b8"/><path d="M164.07 183.33L165.37 185.33L164.07 187.33L162.77 185.33Z" fill="#6446b8"/><path d="M167.79 182.86L169.09 184.86L167.79 186.86L166.49 184.86Z" fill="#6446b8"/><path d="M171.50 182.61L172.80 184.61L171.50 186.61L170.20 184.61Z" fill="#6446b8"/><path d="M175.22 182.43L176.52 184.43L175.22 186.43L173.92 184.43Z" fill="#6446b8"/><path d="M178.94 182.27L180.24 184.27L178.94 186.27L177.64 184.27Z" fill="#6446b8"/><path d="M182.66 182.13L183.96 184.13L182.66 186.13L181.36 184.13Z" fill="#6446b8"/><path d="M186.38 181.97L187.68 183.97L186.38 185.97L185.08 183.97Z" fill="#6446b8"/><path d="M190.09 181.80L191.39 183.80L190.09 185.80L188.79 183.80Z" fill="#6446b8"/><path d="M193.81 181.60L195.11 183.60L193.81 185.60L192.51 183.60Z" fill="#6446b8"/><path d="M197.53 181.41L198.83 183.41L197.53 185.41L196.23 183.41Z" fill="#6446b8"/><path d="M201.25 181.24L202.55 183.24L201.25 185.24L199.95 183.24Z" fill="#6446b8"/><path d="M204.97 181.07L206.27 183.07L204.97 185.07L203.67 183.07Z" fill="#6446b8"/><path d="M208.68 180.91L209.98 182.91L208.68 184.91L207.38 182.91Z" fill="#6446b8"/><path d="M212.40 180.76L213.70 182.76L212.40 184.76L211.10 182.76Z" fill="#6446b8"/><path d="M216.12 180.63L217.42 182.63L216.12 184.63L214.82 182.63Z" fill="#6446b8"/><path d="M219.84 180.53L221.14 182.53L219.84 184.53L218.54 182.53Z" fill="#6446b8"/><path d="M223.56 180.46L224.86 182.46L223.56 184.46L222.26 182.46Z" fill="#6446b8"/><path d="M227.27 180.44L228.57 182.44L227.27 184.44L225.97 182.44Z" fill="#6446b8"/><path d="M230.99 180.45L232.29 182.45L230.99 184.45L229.69 182.45Z" fill="#6446b8"/><path d="M234.71 180.47L236.01 182.47L234.71 184.47L233.41 182.47Z" fill="#6446b8"/><path d="M238.43 180.51L239.73 182.51L238.43 184.51L237.13 182.51Z" fill="#6446b8"/><path d="M242.15 180.55L243.45 182.55L242.15 184.55L240.85 182.55Z" fill="#6446b8"/><path d="M245.86 180.60L247.16 182.60L245.86 184.60L244.56 182.60Z" fill="#6446b8"/><path d="M249.58 180.67L250.88 182.67L249.58 184.67L248.28 182.67Z" fill="#6446b8"/><path d="M253.30 180.79L254.60 182.79L253.30 184.79L252.00 182.79Z" fill="#6446b8"/><path d="M257.02 180.97L258.32 182.97L257.02 184.97L255.72 182.97Z" fill="#6446b8"/><path d="M260.74 181.16L262.04 183.16L260.74 185.16L259.44 183.16Z" fill="#6446b8"/><path d="M264.45 181.34L265.75 183.34L264.45 185.34L263.15 183.34Z" fill="#6446b8"/></g><text x="0.2" y="8.3" class="pl">(a)</text><text x="0.2" y="90.5" class="pl">(b)</text><text x="0.2" y="170.2" class="pl">(c)</text><g class="lg"><g opacity="0.8"><circle cx="294.00" cy="10.80" r="2.05" fill="#de8c4a"/></g><text x="302.20" y="13.0" class="lg" style="font-size:11.6px" textLength="42.77" lengthAdjust="spacingAndGlyphs">Reference</text><g opacity="0.8"><rect x="292.35" y="23.05" width="3.9" height="3.9" fill="#de8c4a"/></g><text x="301.44" y="27.30" style="font-size:11.5px" font-style="italic">θ</text><text x="307.47" y="29.40" style="font-size:8.6px">0</text><line x1="314.9" y1="22.20" x2="322.0" y2="22.20" stroke="#1a1a1a" stroke-width="0.75"/><line x1="314.9" y1="25.10" x2="322.0" y2="25.10" stroke="#1a1a1a" stroke-width="0.75"/><text x="325.35" y="27.3" class="lg" style="font-size:11.2px" textLength="16.27" lengthAdjust="spacingAndGlyphs">180</text><circle cx="343.2" cy="21.1" r="0.95" fill="none" stroke="#1a1a1a" stroke-width="0.6"/><g opacity="0.85"><path d="M293.60 36.50L295.70 39.30L293.60 42.10L291.50 39.30Z" fill="#7c5ed4"/></g><text x="301.43" y="42.00" style="font-size:11px" font-style="italic">ω</text><text x="308.27" y="44.40" style="font-size:8.6px">0</text><text x="312.70" y="42.00" style="font-size:11px">/</text><text x="316.43" y="42.00" style="font-size:11px" font-style="italic">ω</text><text x="324.70" y="44.40" style="font-size:8.6px" font-style="italic">p</text><line x1="331.6" y1="37.00" x2="339.4" y2="37.00" stroke="#1a1a1a" stroke-width="0.75"/><line x1="331.6" y1="39.90" x2="339.4" y2="39.90" stroke="#1a1a1a" stroke-width="0.75"/><text x="342.22" y="42.10" style="font-size:11.2px">6</text><g opacity="0.8"><path d="M291.70 54.27L296.10 54.27L293.90 57.69Z" fill="#40a0a0"/></g><text x="301.71" y="57.7" class="lg" style="font-size:11.4px" textLength="44.46" lengthAdjust="spacingAndGlyphs">Radial pol.</text></g>
</g>
</svg></body></html>
